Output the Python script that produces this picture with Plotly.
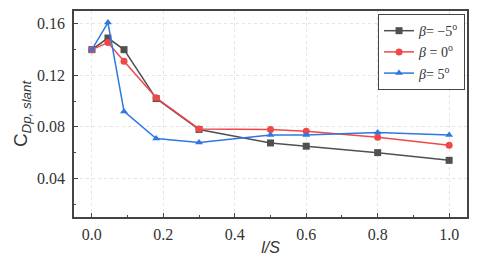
import plotly.graph_objects as go

x_vals = [0, 0.045, 0.09, 0.18, 0.3, 0.5, 0.6, 0.8, 1.0]
beta_m5 = [0.140, 0.149, 0.140, 0.102, 0.078, 0.0675, 0.065, 0.060, 0.054]
beta_0 = [0.140, 0.1455, 0.131, 0.1026, 0.0784, 0.0779, 0.0766, 0.0719, 0.0657]
beta_5 = [0.140, 0.161, 0.092, 0.071, 0.0678, 0.0737, 0.0737, 0.0756, 0.0737]
names = ["<i>β</i>= −5<sup>o</sup>", "<i>β</i> = 0<sup>o</sup>", "<i>β</i>= 5<sup>o</sup>"]
colors = ["#505050", "#f04848", "#2f78e0"]
symbols = ["square", "circle", "triangle-up"]

serif = "Liberation Serif"
sans = "Liberation Sans"

fig = go.Figure()
for y, n, c, s in zip([beta_m5, beta_0, beta_5], names, colors, symbols):
    fig.add_trace(go.Scatter(x=x_vals, y=y, name=n, mode="lines+markers",
                             line=dict(color=c, width=1.5),
                             marker=dict(symbol=s, size=7, color=c)))

axis_common = dict(showline=True, linecolor="#444", linewidth=1.5, mirror=True,
                   ticks="inside", ticklen=4, tickcolor="#444",
                   showgrid=True, gridcolor="#e4e4e4", griddash="dot", gridwidth=1,
                   zeroline=False, automargin=False,
                   tickfont=dict(family=serif, size=16, color="#333"),
                   minor=dict(ticks="inside", ticklen=2, tickcolor="#444", showgrid=False))

fig.update_xaxes(range=[-0.05, 1.05], tickvals=[0, 0.2, 0.4, 0.6, 0.8, 1.0],
                 ticktext=["0.0", "0.2", "0.4", "0.6", "0.8", "1.0"],
                 ticklabelstandoff=2,
                 title=dict(text="<i>l/S</i>", font=dict(family=sans, size=16, color="#333"), standoff=0),
                 **axis_common)
fig.update_xaxes(minor=dict(dtick=0.1, tick0=0))
fig.update_yaxes(range=[0.01, 0.17], tickvals=[0.04, 0.08, 0.12, 0.16],
                 ticktext=["0.04", "0.08", "0.12", "0.16"],
                 ticklabelstandoff=4,
                 title=dict(text="C<sub><i>Dp, slant</i></sub>", font=dict(family=sans, size=19, color="#333"), standoff=4),
                 **axis_common)
fig.update_yaxes(minor=dict(dtick=0.02, tick0=0))

fig.update_layout(width=480, height=261, margin=dict(l=74, r=13, t=11, b=44),
                  plot_bgcolor="white", paper_bgcolor="white",
                  legend=dict(x=0.995, y=0.985, xanchor="right", yanchor="top",
                              bordercolor="#444", borderwidth=1, bgcolor="white",
                              font=dict(family=serif, size=14, color="#333"),
                              tracegroupgap=0, itemwidth=30),
                  showlegend=True)
fig.write_html("out.html", config={"displayModeBar": False},
               post_script="document.body.style.margin='0';document.body.style.overflow='hidden';")
